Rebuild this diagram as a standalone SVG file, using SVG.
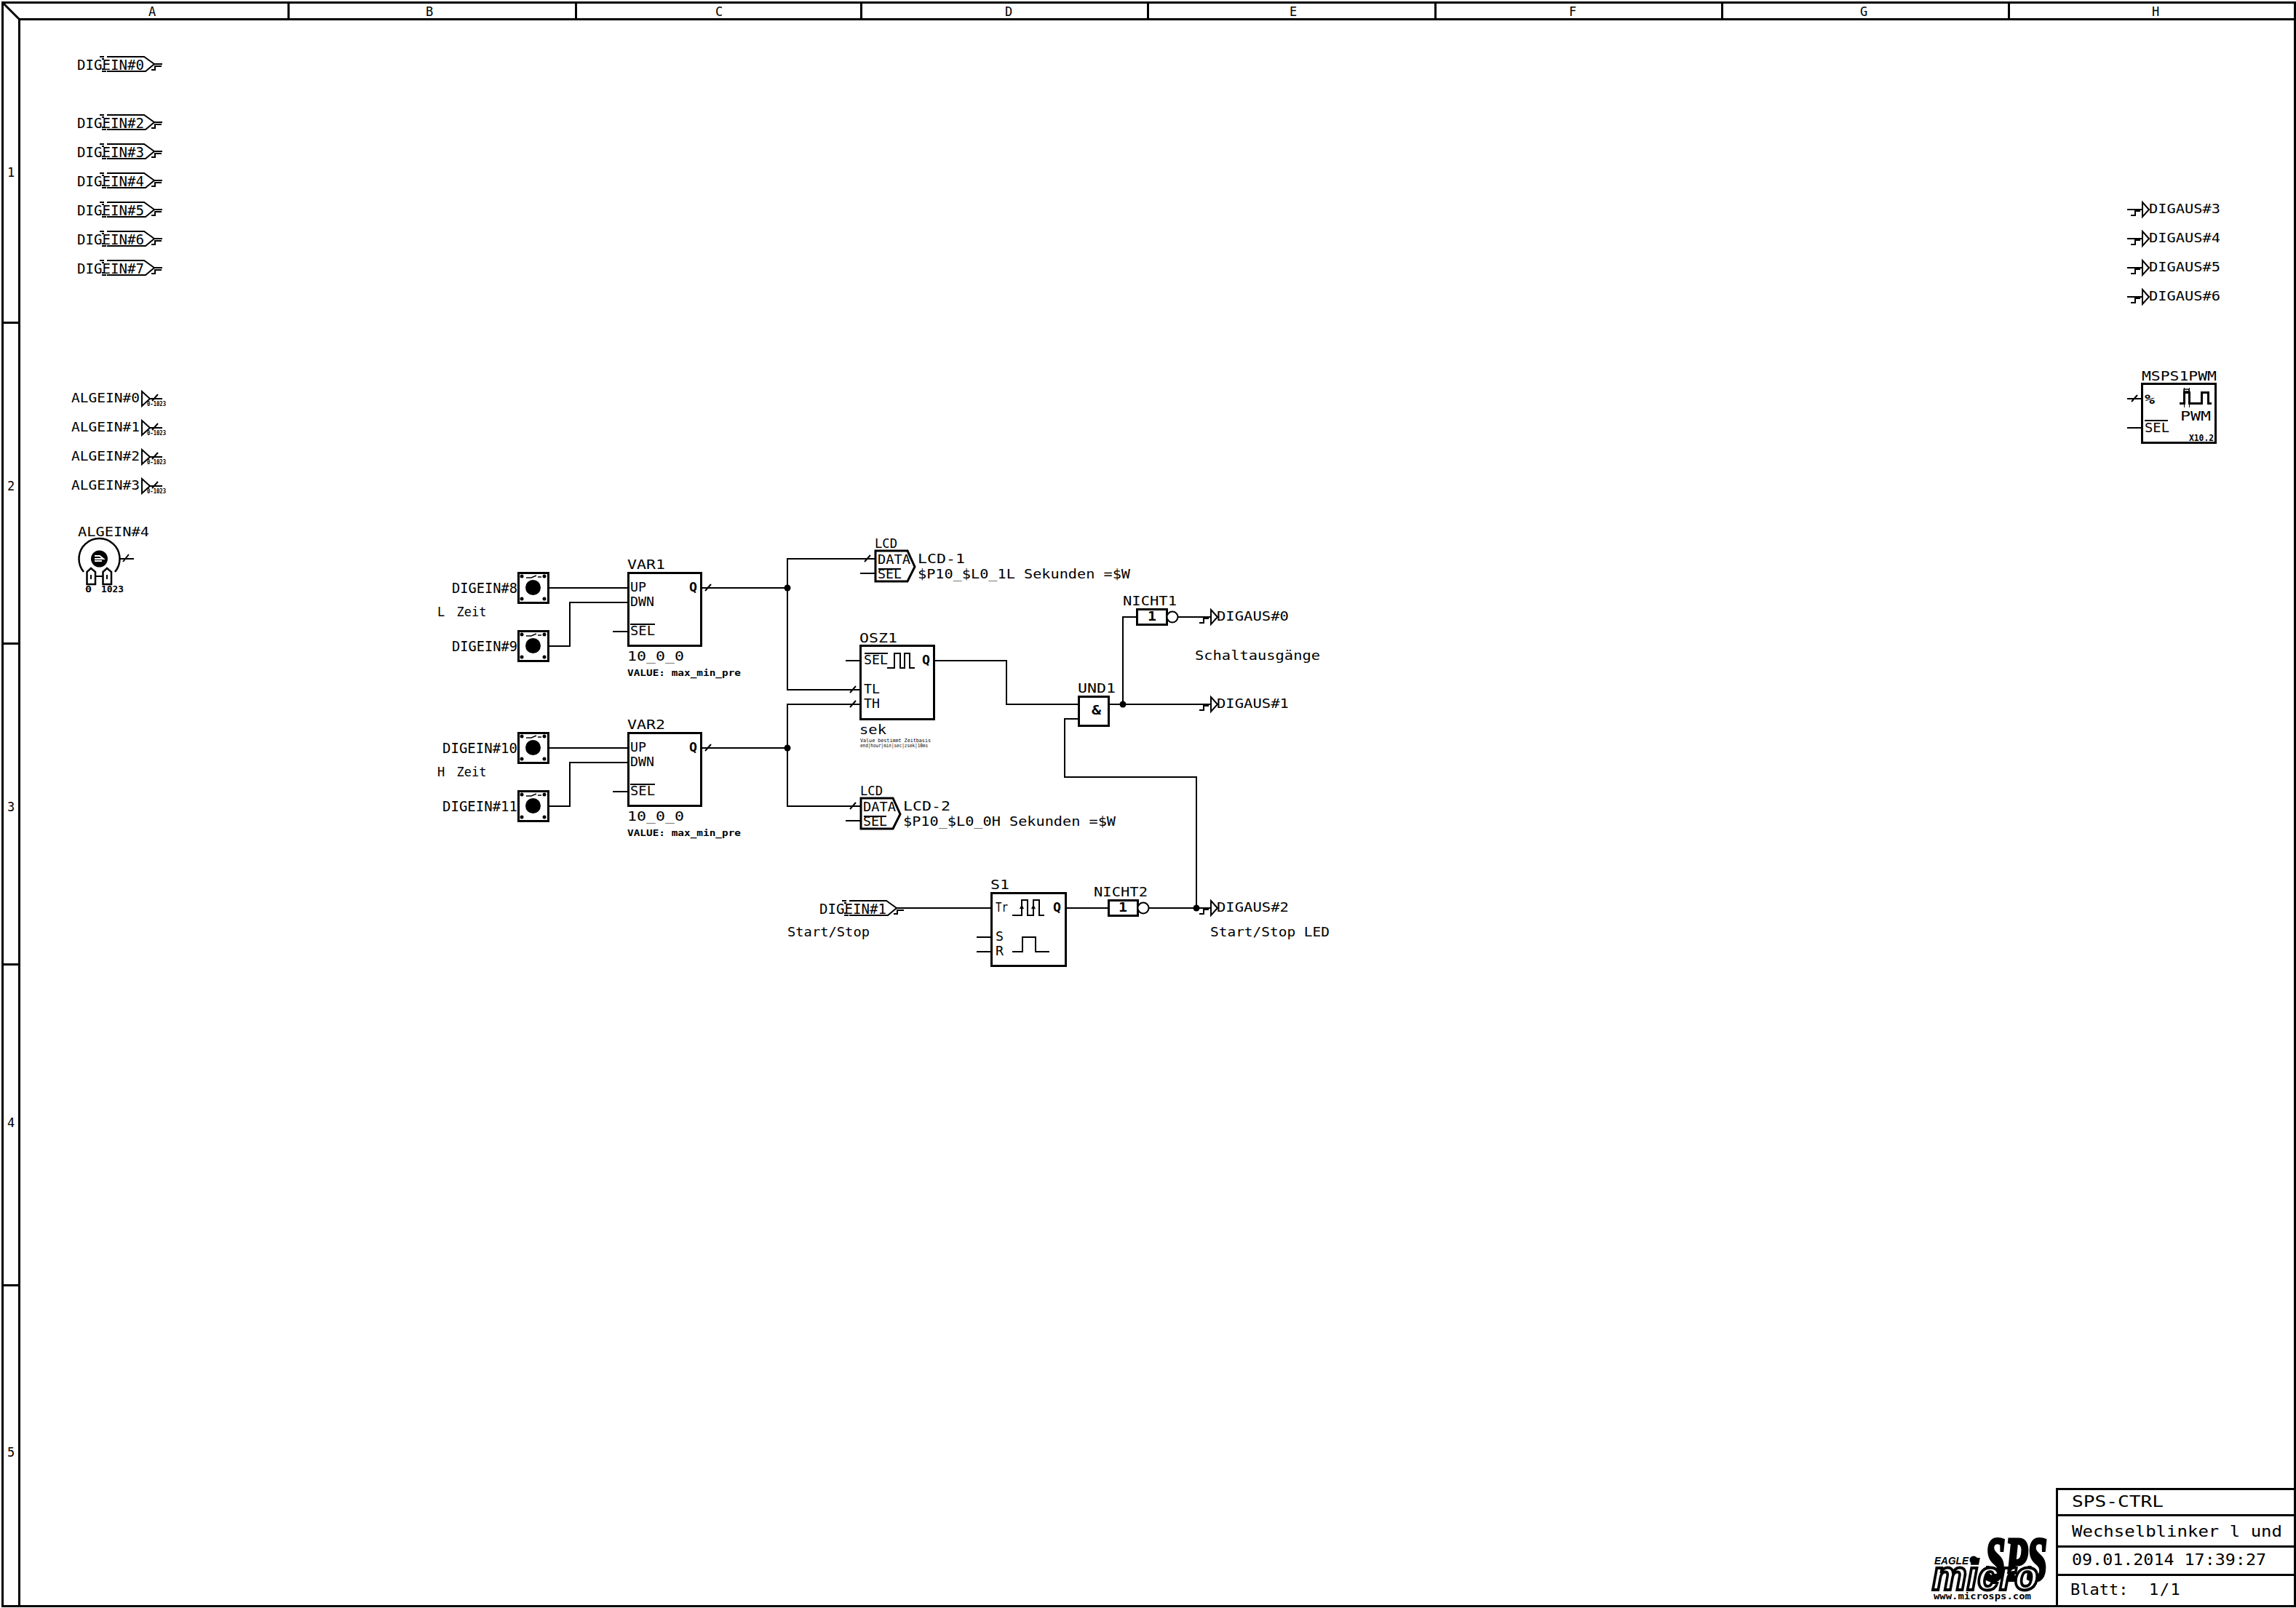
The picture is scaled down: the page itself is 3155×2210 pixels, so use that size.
<svg xmlns="http://www.w3.org/2000/svg" width="3155" height="2210" viewBox="0 0 3155 2210">
<style>
text{font-family:"DejaVu Sans Mono","Liberation Mono",monospace;fill:#000;font-size:19px}
.s17{font-size:17px}
.s18{font-size:18px}
.s22{font-size:22px}
.bd{font-weight:bold}
.sm{font-size:13px;font-weight:bold}
.xs{font-size:8px;font-weight:bold}
.tiny{font-size:7px}
.wire,.ln{fill:none;stroke:#000;stroke-width:2;shape-rendering:crispEdges}
.diag{fill:none;stroke:#000;stroke-width:2}
.box{fill:#fff;stroke:#000;stroke-width:3;shape-rendering:crispEdges}
.frame{fill:none;stroke:#000;stroke-width:3;shape-rendering:crispEdges}
.dot{fill:#000}
</style>
<defs>
<g id="digin">
<path class="diag" d="M147,-10H198L212,0L200,10H147M137,-10H143M140,10H146M140,-7H143M140,7H143"/>
<path class="ln" d="M212,0H223M208,8H213V3H222"/>
</g>
<g id="digout">
<path class="diag" d="M0,-10L9,0L0,10Z"/>
<path class="ln" d="M-16,8H-10V2H-3"/>
</g>
<g id="algin">
<path class="diag" d="M0,-10L11,0L0,10Z M14,3L22,-6"/>
<path class="ln" d="M11,0H28"/>
</g>
<path id="slash" class="diag" d="M-4,4L4,-5"/>
<g id="btn">
<rect class="box" x="0" y="0" width="41" height="41"/>
<circle class="dot" cx="20.500" cy="20.500" r="10.500"/>
<circle class="dot" cx="5" cy="5" r="2.500"/>
<circle class="dot" cx="36" cy="5" r="2.500"/>
<circle class="dot" cx="5" cy="36" r="2.500"/>
<circle class="dot" cx="36" cy="36" r="2.500"/>
<path class="diag" d="M11,7H18L25,4M27,6H32" style="stroke-width:1.500"/>
</g>
<g id="lcd">
<path class="box" d="M0,0H44L54,22L44,42H0Z" style="shape-rendering:auto"/>
<path class="ln" d="M4,25H35"/>
</g>
</defs>

<g id="sheet" opacity="0.999">
<rect x="0" y="0" width="3155" height="2210" fill="#fff"/>
<g id="frame">
<rect class="frame" x="3" y="3" width="3150" height="2204"/>
<path class="frame" d="M26,26V2207M26,26H3153M396,3V26M791,3V26M1183,3V26M1577,3V26M1972,3V26M2366,3V26M2760,3V26M3,443H26M3,884H26M3,1325H26M3,1766H26"/>
<path class="diag" style="stroke-width:3" d="M3,3L26,26"/>
<text class="s17" x="209" y="22" text-anchor="middle">A</text>
<text class="s17" x="590" y="22" text-anchor="middle">B</text>
<text class="s17" x="988" y="22" text-anchor="middle">C</text>
<text class="s17" x="1386" y="22" text-anchor="middle">D</text>
<text class="s17" x="1777" y="22" text-anchor="middle">E</text>
<text class="s17" x="2161" y="22" text-anchor="middle">F</text>
<text class="s17" x="2561" y="22" text-anchor="middle">G</text>
<text class="s17" x="2962" y="22" text-anchor="middle">H</text>
<text class="s17" x="15" y="243" text-anchor="middle">1</text>
<text class="s17" x="15" y="674" text-anchor="middle">2</text>
<text class="s17" x="15" y="1115" text-anchor="middle">3</text>
<text class="s17" x="15" y="1549" text-anchor="middle">4</text>
<text class="s17" x="15" y="2002" text-anchor="middle">5</text>
</g>

<g id="connectors">
<path class="wire" d="M753,808H863M753,888H783V828H863M842,868H863M963,808H1082"/>
<path class="wire" d="M753,1028H863M753,1108H783V1048H863M842,1088H863M963,1028H1082"/>
<path class="wire" d="M1203,768H1082V948H1182M1182,788H1203M1182,968H1082V1108H1182M1162,1128H1182M1162,908H1182"/>
<path class="wire" d="M1283,908H1383V968H1482M1523,968H1664M1543,968V848H1562M1619,848H1664"/>
<path class="wire" d="M1482,988H1463V1068H1644V1248M1232,1248H1362M1464,1248H1523M1579,1248H1664M1342,1288H1362M1342,1308H1362"/>
<path class="wire" d="M2923,288H2944M2923,328H2944M2923,368H2944M2923,408H2944M2923,548H2943M2923,588H2943"/>
<circle class="dot" cx="1082" cy="808" r="4.500"/>
<circle class="dot" cx="1082" cy="1028" r="4.500"/>
<circle class="dot" cx="1543" cy="968" r="4.500"/>
<circle class="dot" cx="1644" cy="1248" r="4.500"/>
<use href="#slash" x="973" y="808"/>
<use href="#slash" x="973" y="1028"/>
<use href="#slash" x="1192" y="768"/>
<use href="#slash" x="1172" y="948"/>
<use href="#slash" x="1172" y="968"/>
<use href="#slash" x="1172" y="1108"/>
<use href="#slash" x="2933" y="548"/>
</g>

<g id="digein0"><use href="#digin" x="0" y="88"/><text x="106" y="96" textLength="92" lengthAdjust="spacingAndGlyphs">DIGEIN#0</text></g>
<g id="digein2"><use href="#digin" x="0" y="168"/><text x="106" y="176" textLength="92" lengthAdjust="spacingAndGlyphs">DIGEIN#2</text></g>
<g id="digein3"><use href="#digin" x="0" y="208"/><text x="106" y="216" textLength="92" lengthAdjust="spacingAndGlyphs">DIGEIN#3</text></g>
<g id="digein4"><use href="#digin" x="0" y="248"/><text x="106" y="256" textLength="92" lengthAdjust="spacingAndGlyphs">DIGEIN#4</text></g>
<g id="digein5"><use href="#digin" x="0" y="288"/><text x="106" y="296" textLength="92" lengthAdjust="spacingAndGlyphs">DIGEIN#5</text></g>
<g id="digein6"><use href="#digin" x="0" y="328"/><text x="106" y="336" textLength="92" lengthAdjust="spacingAndGlyphs">DIGEIN#6</text></g>
<g id="digein7"><use href="#digin" x="0" y="368"/><text x="106" y="376" textLength="92" lengthAdjust="spacingAndGlyphs">DIGEIN#7</text></g>

<g id="algein0"><use href="#algin" x="195" y="548"/><text x="98" y="553" class="s18" textLength="94" lengthAdjust="spacingAndGlyphs">ALGEIN#0</text><text class="xs" x="202" y="558" textLength="26" lengthAdjust="spacingAndGlyphs">0-1023</text></g>
<g id="algein1"><use href="#algin" x="195" y="588"/><text x="98" y="593" class="s18" textLength="94" lengthAdjust="spacingAndGlyphs">ALGEIN#1</text><text class="xs" x="202" y="598" textLength="26" lengthAdjust="spacingAndGlyphs">0-1023</text></g>
<g id="algein2"><use href="#algin" x="195" y="628"/><text x="98" y="633" class="s18" textLength="94" lengthAdjust="spacingAndGlyphs">ALGEIN#2</text><text class="xs" x="202" y="638" textLength="26" lengthAdjust="spacingAndGlyphs">0-1023</text></g>
<g id="algein3"><use href="#algin" x="195" y="668"/><text x="98" y="673" class="s18" textLength="94" lengthAdjust="spacingAndGlyphs">ALGEIN#3</text><text class="xs" x="202" y="678" textLength="26" lengthAdjust="spacingAndGlyphs">0-1023</text></g>

<g id="algein4">
<text x="107" y="737" class="s18" textLength="98" lengthAdjust="spacingAndGlyphs">ALGEIN#4</text>
<path class="diag" style="stroke-width:2.500" d="M115,786A28,28 0 1 1 158,786"/>
<circle class="dot" cx="136.500" cy="768" r="11.500"/>
<path d="M130,764H137L142,768H130M130,771H140" fill="none" stroke="#fff" stroke-width="2"/>
<path class="diag" style="stroke-width:2.500" d="M119.500,803V786L125,781L131,786V803ZM141.500,803V786L147,781L153,786V803Z"/>
<path class="diag" d="M131,792H142M125,790V796M147,790V796"/>
<path class="ln" d="M165,768H184"/>
<path class="diag" d="M169,772L177,762"/>
<text class="sm" x="117" y="814" textLength="9" lengthAdjust="spacingAndGlyphs">0</text>
<text class="sm" x="139" y="814" textLength="31" lengthAdjust="spacingAndGlyphs">1023</text>
</g>

<g id="digeintaster8"><use href="#btn" x="712" y="787"/><text x="621" y="815" textLength="90" lengthAdjust="spacingAndGlyphs">DIGEIN#8</text></g>
<g id="digeintaster9"><use href="#btn" x="712" y="867"/><text x="621" y="895" textLength="90" lengthAdjust="spacingAndGlyphs">DIGEIN#9</text></g>
<g id="digeintaster10"><use href="#btn" x="712" y="1007"/><text x="608" y="1035" textLength="103" lengthAdjust="spacingAndGlyphs">DIGEIN#10</text></g>
<g id="digeintaster11"><use href="#btn" x="712" y="1087"/><text x="608" y="1115" textLength="103" lengthAdjust="spacingAndGlyphs">DIGEIN#11</text></g>
<g id="lbl-l"><text class="s17" x="601" y="847" word-spacing="6">L Zeit</text></g>
<g id="lbl-h"><text class="s17" x="601" y="1067" word-spacing="6">H Zeit</text></g>

<g id="var1">
<rect class="box" x="863" y="787" width="100" height="100"/>
<text class="s17" x="862" y="782" textLength="52" lengthAdjust="spacingAndGlyphs">VAR1</text>
<text class="s17" x="866" y="813" textLength="22" lengthAdjust="spacingAndGlyphs">UP</text>
<text class="s17" x="866" y="833" textLength="33" lengthAdjust="spacingAndGlyphs">DWN</text>
<path class="ln" d="M866,858H900"/>
<text class="s17" x="866" y="873" textLength="34" lengthAdjust="spacingAndGlyphs">SEL</text>
<text class="s17 bd" x="947" y="813" textLength="11" lengthAdjust="spacingAndGlyphs">Q</text>
<text class="s17" x="862" y="908" textLength="78" lengthAdjust="spacingAndGlyphs">10_0_0</text>
<text class="sm" x="862" y="929" textLength="156" lengthAdjust="spacingAndGlyphs">VALUE: max_min_pre</text>
</g>
<g id="var2">
<rect class="box" x="863" y="1007" width="100" height="100"/>
<text class="s17" x="862" y="1002" textLength="52" lengthAdjust="spacingAndGlyphs">VAR2</text>
<text class="s17" x="866" y="1033" textLength="22" lengthAdjust="spacingAndGlyphs">UP</text>
<text class="s17" x="866" y="1053" textLength="33" lengthAdjust="spacingAndGlyphs">DWN</text>
<path class="ln" d="M866,1078H900"/>
<text class="s17" x="866" y="1093" textLength="34" lengthAdjust="spacingAndGlyphs">SEL</text>
<text class="s17 bd" x="947" y="1033" textLength="11" lengthAdjust="spacingAndGlyphs">Q</text>
<text class="s17" x="862" y="1128" textLength="78" lengthAdjust="spacingAndGlyphs">10_0_0</text>
<text class="sm" x="862" y="1149" textLength="156" lengthAdjust="spacingAndGlyphs">VALUE: max_min_pre</text>
</g>

<g id="lcd1">
<use href="#lcd" x="1203" y="757"/>
<text class="s17" x="1202" y="753" textLength="31" lengthAdjust="spacingAndGlyphs">LCD</text>
<text class="s17" x="1206" y="775" textLength="45" lengthAdjust="spacingAndGlyphs">DATA</text>
<text class="s17" x="1206" y="795" textLength="33" lengthAdjust="spacingAndGlyphs">SEL</text>
<text class="s18" x="1261" y="774" textLength="65" lengthAdjust="spacingAndGlyphs">LCD-1</text>
<text class="s18" x="1261" y="795" textLength="292" lengthAdjust="spacingAndGlyphs">$P10_$L0_1L Sekunden =$W</text>
</g>
<g id="lcd2">
<use href="#lcd" x="1183" y="1097"/>
<text class="s17" x="1182" y="1093" textLength="31" lengthAdjust="spacingAndGlyphs">LCD</text>
<text class="s17" x="1186" y="1115" textLength="45" lengthAdjust="spacingAndGlyphs">DATA</text>
<text class="s17" x="1186" y="1135" textLength="33" lengthAdjust="spacingAndGlyphs">SEL</text>
<text class="s18" x="1241" y="1114" textLength="65" lengthAdjust="spacingAndGlyphs">LCD-2</text>
<text class="s18" x="1241" y="1135" textLength="292" lengthAdjust="spacingAndGlyphs">$P10_$L0_0H Sekunden =$W</text>
</g>

<g id="osz1">
<rect class="box" x="1182" y="887" width="101" height="101"/>
<text class="s17" x="1181" y="883" textLength="52" lengthAdjust="spacingAndGlyphs">OSZ1</text>
<path class="ln" d="M1188,898H1220M1219,918H1229V898H1237V918H1243V898H1250V918H1257"/>
<text class="s17" x="1187" y="913" textLength="33" lengthAdjust="spacingAndGlyphs">SEL</text>
<text class="s17 bd" x="1267" y="913" textLength="11" lengthAdjust="spacingAndGlyphs">Q</text>
<text class="s17" x="1187" y="953" textLength="22" lengthAdjust="spacingAndGlyphs">TL</text>
<text class="s17" x="1187" y="973" textLength="22" lengthAdjust="spacingAndGlyphs">TH</text>
<text class="s17" x="1181" y="1009" textLength="37" lengthAdjust="spacingAndGlyphs">sek</text>
<text class="tiny" x="1182" y="1020" textLength="97" lengthAdjust="spacingAndGlyphs">Value bestimmt Zeitbasis</text>
<text class="tiny" x="1182" y="1027" textLength="93" lengthAdjust="spacingAndGlyphs">end|hour|min|sec|zsek|10ms</text>
</g>

<g id="und1">
<rect class="box" x="1482" y="957" width="41" height="40"/>
<text class="s17" x="1481" y="952" textLength="52" lengthAdjust="spacingAndGlyphs">UND1</text>
<text class="s17 bd" x="1500" y="982" textLength="13" lengthAdjust="spacingAndGlyphs">&amp;</text>
</g>
<g id="nicht1">
<rect class="box" x="1562" y="837" width="41" height="21"/>
<circle cx="1611" cy="848" r="7.500" fill="#fff" stroke="#000" stroke-width="2"/>
<text class="s17" x="1543" y="832" textLength="74" lengthAdjust="spacingAndGlyphs">NICHT1</text>
<text class="s17 bd" x="1577" y="853" textLength="12" lengthAdjust="spacingAndGlyphs">1</text>
</g>
<g id="nicht2">
<rect class="box" x="1523" y="1237" width="40" height="21"/>
<circle cx="1571" cy="1248" r="7.500" fill="#fff" stroke="#000" stroke-width="2"/>
<text class="s17" x="1503" y="1232" textLength="74" lengthAdjust="spacingAndGlyphs">NICHT2</text>
<text class="s17 bd" x="1537" y="1253" textLength="12" lengthAdjust="spacingAndGlyphs">1</text>
</g>

<g id="s1">
<rect class="box" x="1362" y="1227" width="102" height="100"/>
<text class="s17" x="1361" y="1222" textLength="26" lengthAdjust="spacingAndGlyphs">S1</text>
<text class="s17" x="1368" y="1253" textLength="17" lengthAdjust="spacingAndGlyphs">Tr</text>
<text class="s17 bd" x="1447" y="1253" textLength="11" lengthAdjust="spacingAndGlyphs">Q</text>
<text class="s17" x="1368" y="1293" textLength="11" lengthAdjust="spacingAndGlyphs">S</text>
<text class="s17" x="1368" y="1313" textLength="11" lengthAdjust="spacingAndGlyphs">R</text>
<path class="ln" d="M1391,1258H1404V1237H1412V1258H1420V1237H1428V1258H1435M1391,1308H1405V1288H1423V1308H1442"/>
<path class="dot" d="M1404,1243l-3,6h6ZM1420,1243l-3,6h6Z"/>
</g>

<g id="digein1"><use href="#digin" x="1020" y="1248"/><text x="1126" y="1256" textLength="92" lengthAdjust="spacingAndGlyphs">DIGEIN#1</text></g>
<g id="lbl-start"><text class="s17" x="1082" y="1287" textLength="113" lengthAdjust="spacingAndGlyphs">Start/Stop</text></g>

<g id="digaus0"><use href="#digout" x="1664" y="848"/><text x="1672" y="853" class="s18" textLength="99" lengthAdjust="spacingAndGlyphs">DIGAUS#0</text></g>
<g id="digaus1"><use href="#digout" x="1664" y="968"/><text x="1672" y="973" class="s18" textLength="99" lengthAdjust="spacingAndGlyphs">DIGAUS#1</text></g>
<g id="digaus2"><use href="#digout" x="1664" y="1248"/><text x="1672" y="1253" class="s18" textLength="99" lengthAdjust="spacingAndGlyphs">DIGAUS#2</text></g>
<g id="lbl-schalt"><text class="s17" x="1642" y="907" textLength="172" lengthAdjust="spacingAndGlyphs">Schaltausgänge</text></g>
<g id="lbl-startled"><text class="s17" x="1663" y="1287" textLength="164" lengthAdjust="spacingAndGlyphs">Start/Stop LED</text></g>

<g id="digaus3"><use href="#digout" x="2944" y="288"/><text x="2953" y="293" class="s18" textLength="98" lengthAdjust="spacingAndGlyphs">DIGAUS#3</text></g>
<g id="digaus4"><use href="#digout" x="2944" y="328"/><text x="2953" y="333" class="s18" textLength="98" lengthAdjust="spacingAndGlyphs">DIGAUS#4</text></g>
<g id="digaus5"><use href="#digout" x="2944" y="368"/><text x="2953" y="373" class="s18" textLength="98" lengthAdjust="spacingAndGlyphs">DIGAUS#5</text></g>
<g id="digaus6"><use href="#digout" x="2944" y="408"/><text x="2953" y="413" class="s18" textLength="98" lengthAdjust="spacingAndGlyphs">DIGAUS#6</text></g>

<g id="msps1pwm">
<rect class="box" x="2943" y="527" width="101" height="81"/>
<text class="s17" x="2943" y="523" textLength="103" lengthAdjust="spacingAndGlyphs">MSPS1PWM</text>
<text class="s17 bd" x="2947" y="555" textLength="14" lengthAdjust="spacingAndGlyphs">%</text>
<path class="ln" d="M2947,578H2979"/>
<text class="s17" x="2947" y="594" textLength="34" lengthAdjust="spacingAndGlyphs">SEL</text>
<text class="s18" x="2996" y="578" textLength="42" lengthAdjust="spacingAndGlyphs">PWM</text>
<path class="ln" style="stroke-width:3" d="M2995,554H3001V539H3008V554H3025V539H3034V554H3039"/>
<path class="ln" style="stroke-width:1" d="M3001,533V560M3008,533V560"/>
<path class="diag" style="stroke-width:1.500" d="M3001,535H3008V538H3001Z"/>
<text class="sm" x="3008" y="606" textLength="34" lengthAdjust="spacingAndGlyphs">X10.2</text>
</g>

<g id="titleblock">
<path class="frame" d="M2826,2207V2046H3153M2826,2082H3153M2826,2125H3153M2826,2164H3153"/>
<text class="s22" x="2847" y="2071" textLength="126" lengthAdjust="spacingAndGlyphs">SPS-CTRL</text>
<text class="s22" x="2847" y="2112" textLength="289" lengthAdjust="spacingAndGlyphs">Wechselblinker l und</text>
<text class="s22" x="2847" y="2151" textLength="267" lengthAdjust="spacingAndGlyphs">09.01.2014 17:39:27</text>
<text class="s22" x="2845" y="2192">Blatt:<tspan x="2953" letter-spacing="1.500">1/1</tspan></text>
</g>

<g id="logo">
<text x="2728" y="2172" textLength="85" lengthAdjust="spacingAndGlyphs" style="font-family:'Liberation Serif',serif;font-size:84px;font-weight:bold;font-style:italic;stroke:#000;stroke-width:5">SPS</text>
<text x="2655" y="2185" textLength="146" lengthAdjust="spacingAndGlyphs" style="font-family:'Liberation Sans',sans-serif;font-size:58px;font-weight:bold;font-style:italic;fill:#fff;stroke:#000;stroke-width:4">micro</text>
<text x="2658" y="2150" textLength="47" lengthAdjust="spacingAndGlyphs" style="font-family:'Liberation Sans',sans-serif;font-size:14px;font-weight:bold;font-style:italic">EAGLE</text>
<circle class="dot" cx="2712" cy="2144" r="5.500"/>
<text class="sm" x="2657" y="2198" textLength="134" lengthAdjust="spacingAndGlyphs">www.microsps.com</text>
</g>
</g>
</svg>
